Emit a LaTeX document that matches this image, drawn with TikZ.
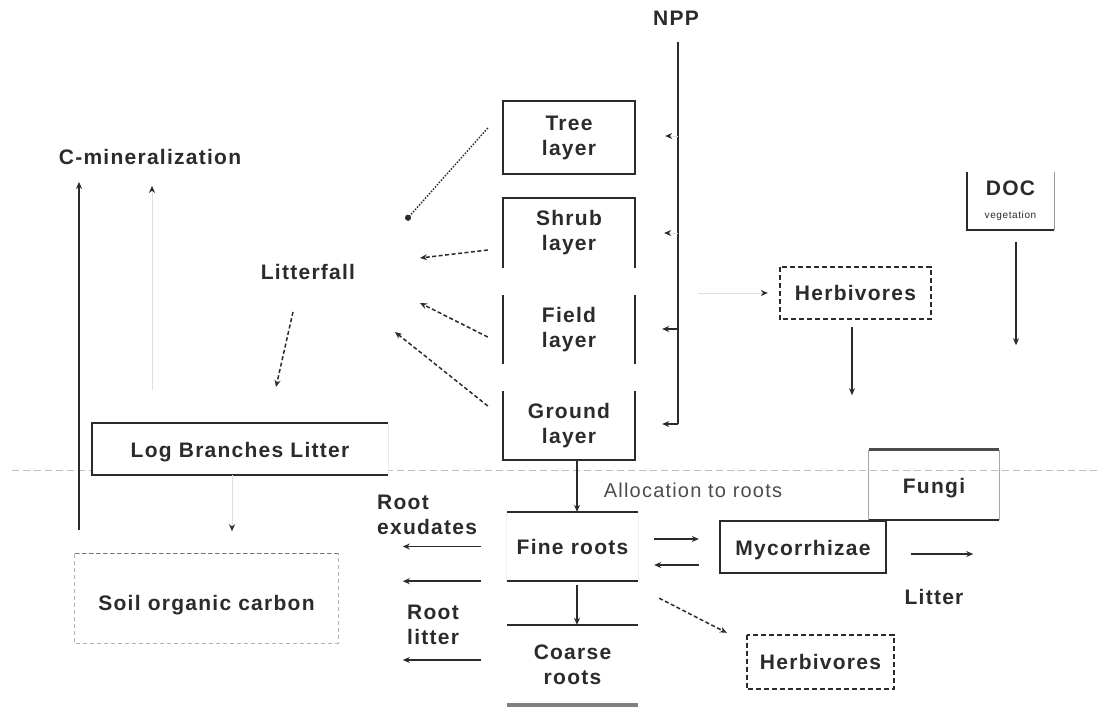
\documentclass[tikz,border=0pt]{standalone}
\usepackage{fontspec}
\setmainfont{Liberation Sans}
\newfontfamily\labfont[LetterSpace=6]{Liberation Sans}
\usetikzlibrary{arrows.meta}
\definecolor{ink}{HTML}{2B2B2B}

\begin{document}
\begin{tikzpicture}[x=1pt,y=-1pt,
  every node/.style={inner sep=0pt, text=ink},
  lbl/.style={font=\labfont\bfseries\fontsize{21}{25}\selectfont, align=center},
  plainlbl/.style={font=\labfont\fontsize{20}{24}\selectfont, text=black!70},
  rule/.style={draw=ink, line width=1.8pt},
  flow/.style={draw=ink, line width=1.7pt, -{Stealth[length=7pt,width=6pt]}},
  dflow/.style={flow, line width=1.5pt, dash pattern=on 4pt off 2.5pt},
  dotflow/.style={draw=ink, line width=1.4pt, dash pattern=on 1.5pt off 1.5pt, -{Circle[length=6pt]}},
  ghost/.style={draw=black!12, line width=0.9pt, -{Stealth[length=7pt,width=6pt,color=ink]}},
  hbox/.style={draw=ink, line width=1.5pt, dash pattern=on 5pt off 3pt},
  softbox/.style={draw=black!30, line width=1pt, dash pattern=on 4pt off 3pt}
]
\useasboundingbox[fill=white] (0,0) rectangle (1099,707);

% ground surface
\draw[draw=black!25, line width=1pt, dash pattern=on 7pt off 4pt] (12,470) -- (1099,470);

% vegetation layers
\node[lbl, minimum width=132pt, minimum height=72pt] (tree)   at (569,137.5) {Tree\\layer};
\node[lbl, minimum width=132pt, minimum height=69pt] (shrub)  at (569,233)   {Shrub\\layer};
\node[lbl, minimum width=132pt, minimum height=68pt] (field)  at (569,329.5) {Field\\layer};
\node[lbl, minimum width=132pt, minimum height=68pt] (ground) at (569,425.5) {Ground\\layer};

\draw[rule] (tree.north west) rectangle (tree.south east);
\draw[rule] (shrub.south west) |- (shrub.north east) -- (shrub.south east);
\draw[rule] (field.north west) -- (field.south west) (field.north east) -- (field.south east);
\draw[rule] (ground.north west) |- (ground.south east) -- (ground.north east);

% labels
\node[lbl] (npp) at (676,18) {NPP};
\node[lbl] (cmin) at (150,157) {C-mineralization};
\node[lbl] (litterfall) at (308,272) {Litterfall};
\node[plainlbl] (alloc) at (693,490) {Allocation to roots};
\node[lbl, align=left, anchor=west] (rootex) at (377,515) {Root\\exudates};
\node[lbl, align=left, anchor=west] (rootlit) at (407,624.5) {Root\\litter};
\node[lbl] (litter) at (934,597) {Litter};

% litter and soil pools
\node[lbl, fill=white, minimum width=296pt, minimum height=52pt, text height=18pt, text depth=2pt] (logb) at (240,449) {Log Branches Litter};
\draw[rule] (logb.north east) -| (logb.south west) -- (logb.south east);
\draw[draw=black!8, line width=1pt] (logb.north east) -- (logb.south east);

\node[lbl, minimum width=263pt, minimum height=89pt, text height=28pt, text depth=5pt] (soc) at (206.5,598.5) {Soil organic carbon};
\draw[softbox] (soc.north west) rectangle (soc.south east);
\draw[draw=black!55, line width=1pt, dash pattern=on 4pt off 3pt] (soc.north west) -- (soc.north east);

% roots
\node[lbl, minimum width=131pt, minimum height=69pt] (fine) at (572.5,546.5) {Fine roots};
\draw[rule] (fine.north west) -- (fine.north east) (fine.south west) -- (fine.south east);
\draw[draw=black!6, line width=1pt] (fine.north west) -- (fine.south west) (fine.north east) -- (fine.south east);

\node[lbl, minimum width=131pt, minimum height=80pt] (coarse) at (572.5,665) {Coarse\\roots};
\draw[rule] (coarse.north west) -- (coarse.north east);
\draw[draw=black!50, line width=4pt] (coarse.south west) -- (coarse.south east);

% symbionts and consumers
\node[lbl, minimum width=166pt, minimum height=52pt, text height=18pt, text depth=2pt] (myc) at (803,547) {Mycorrhizae};
\draw[rule] (myc.north west) rectangle (myc.south east);

\node[lbl, minimum width=130pt, minimum height=70pt, text height=18pt, text depth=2pt] (fungi) at (934,485) {Fungi};
\draw[draw=black!35, line width=1pt] (fungi.north west) -- (fungi.south west) (fungi.north east) -- (fungi.south east);
\draw[draw=black!70, line width=3pt] (fungi.north west) -- (fungi.north east);
\draw[rule] (fungi.south west) -- (fungi.south east);

\node[lbl, minimum width=151pt, minimum height=52pt] (herbA) at (855.5,293) {Herbivores};
\draw[hbox] (herbA.north west) rectangle (herbA.south east);

\node[lbl, minimum width=147pt, minimum height=54pt] (herbB) at (820.5,662) {Herbivores};
\draw[hbox] (herbB.north west) rectangle (herbB.south east);

\node[lbl, minimum width=87pt, minimum height=58pt] (doc) at (1010.5,201) {DOC\\[-2pt]{\fontsize{10}{12}\selectfont\mdseries vegetation}};
\draw[rule] (doc.north west) |- (doc.south east);
\draw[draw=black!40, line width=1pt] (doc.south east) -- (doc.north east);

% NPP trunk and allocation to layers
\coordinate (trunkTop) at (678,42);
\coordinate (trunkBot) at (678,424);
\coordinate (tapTree) at (678,136);
\coordinate (tapShrub) at (678,233);
\coordinate (tapField) at (678,329);
\draw[rule] (trunkTop) -- (trunkBot);
\draw[flow, shorten >=27pt] (trunkBot) -- (trunkBot -| ground.east);
\draw[flow, shorten >=27pt] (tapField) -- (tapField -| field.east);
\draw[ghost, shorten >=29pt] (tapShrub) -- (tapShrub -| shrub.east);
\draw[ghost, shorten >=30pt] (tapTree) -- (tapTree -| tree.east);
\draw[ghost, shorten <=20pt] (herbA.west -| trunkTop) -- ([xshift=-12pt]herbA.west);

% litterfall
\coordinate (lfTree) at (406,220);
\coordinate (lfShrub) at (420,258);
\coordinate (lfField) at (420,303);
\coordinate (lfGround) at (395,332);
\coordinate (lfDown) at (276,387);
\draw[dotflow] ([shift={(-15,-9.5)}]tree.west) -- (lfTree);
\draw[dflow] ([shift={(-15,17)}]shrub.west) -- (lfShrub);
\draw[dflow] ([shift={(-15,7.5)}]field.west) -- (lfField);
\draw[dflow] ([shift={(-15,-19.5)}]ground.west) -- (lfGround);
\draw[dflow] ([shift={(-15,32)}]litterfall.south) -- (lfDown);

% mineralization
\coordinate (cmBase) at (79,530);
\coordinate (cmSoft) at (152,390);
\draw[flow] (cmBase) -- ([shift={(0,17)}]cmBase |- cmin.south);
\draw[ghost] (cmSoft) -- ([shift={(0,21)}]cmSoft |- cmin.south);
\draw[ghost] ([xshift=-8pt]logb.south) -- ++(0,56);

% below-ground fluxes
\draw[flow] ([xshift=8pt]ground.south) -- ([xshift=8pt]ground.south |- fine.north);
\draw[flow] ([shift={(4.5,4)}]fine.south) -- ([xshift=4.5pt]fine.south |- coarse.north);
\draw[flow] ([xshift=-26pt]fine.west) -- ++(-78,0);
\draw[flow] ([xshift=-26pt]fine.south west) -- ++(-78,0);
\draw[flow] ([shift={(-26,-5)}]coarse.west) -- ++(-78,0);
\draw[flow] ([shift={(16,-7.5)}]fine.east) -- ([shift={(-21,-8)}]myc.west);
\draw[flow] ([shift={(-21,18)}]myc.west) -- ([shift={(16,18.5)}]fine.east);
\draw[flow] ([shift={(25,7)}]myc.east) -- ++(62,0);
\draw[dflow] ([shift={(21,17)}]fine.south east) -- ([shift={(-20,-2)}]herbB.north west);
\draw[flow] ([shift={(-3.5,8)}]herbA.south) -- ++(0,68);
\draw[flow] ([shift={(5.5,12)}]doc.south) -- ++(0,103);
\end{tikzpicture}
\end{document}
